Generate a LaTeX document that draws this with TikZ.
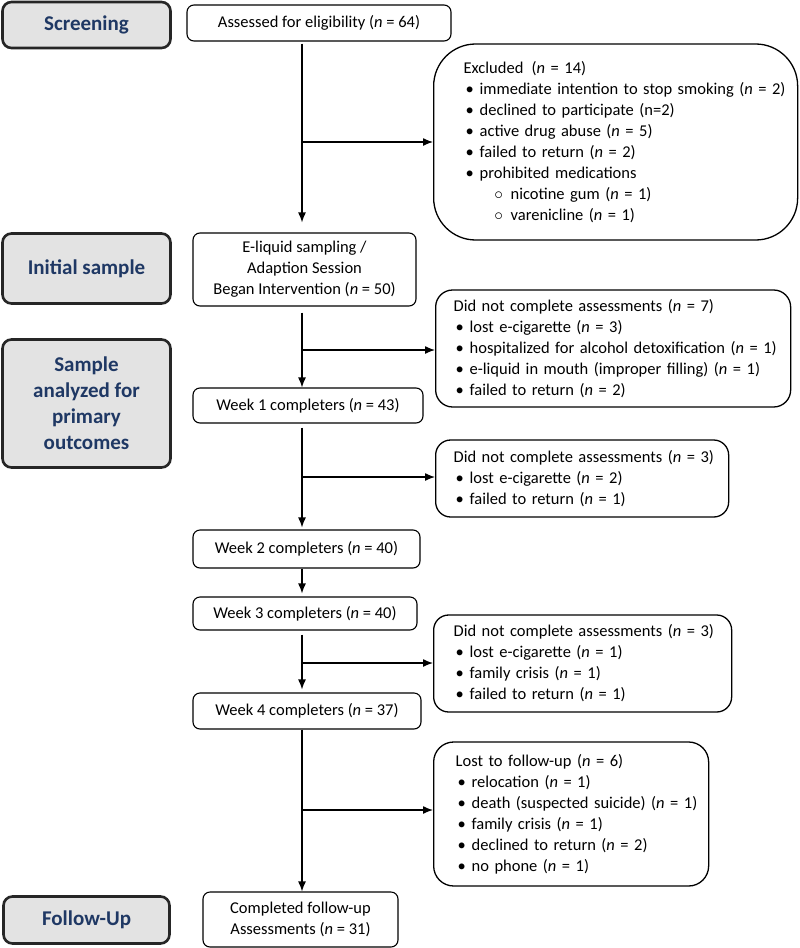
\documentclass[tikz,border=0pt]{standalone}
\usepackage{fontspec}
\setmainfont{Carlito}
\usepackage{tikz}
\usetikzlibrary{arrows.meta}

\definecolor{stagefill}{RGB}{227,227,227}
\definecolor{stagetext}{RGB}{31,56,100}

\newcommand{\hd}[1]{\mbox{#1}}
\newcommand{\itm}[1]{\mbox{\makebox[12pt][c]{\textbullet}\hspace{4pt}#1}}
\newcommand{\subitm}[1]{\mbox{\hspace*{29pt}\makebox[12pt][c]{$\circ$}\hspace{6pt}#1}}
\newcommand{\nn}{\textit{n}}

\begin{document}
\begin{tikzpicture}[x=1pt, y=-1pt,
    every node/.style={font=\fontsize{16.5}{21}\selectfont, inner sep=0pt},
    stage/.style={draw=black!85, line width=2.6pt, fill=stagefill, rounded corners=9pt,
        text=stagetext, font=\fontsize{21}{26}\selectfont\bfseries, align=center},
    mainbox/.style={draw, line width=1.1pt, rounded corners=7pt, align=center},
    sidebox/.style={draw, line width=1.3pt, align=left, anchor=west},
    arr/.style={line width=1.3pt, -{Latex[length=10pt, width=8pt]}}]

        \useasboundingbox (0,0) rectangle (800,948);

        % Stages on the left
        \node[stage, minimum width=168, minimum height=46] (scr) at (86.5,25) {Screening};
        \node[stage, minimum width=168, minimum height=70] (ini) at (86.5,268.5) {Initial sample};
        \node[stage, minimum width=168, minimum height=128] (ana) at (86.5,403.5) {Sample\\analyzed for\\primary\\outcomes};
        \node[stage, minimum width=166, minimum height=47] (fol) at (86.5,920) {Follow-Up};

        % Main column
        \node[mainbox, minimum width=264, minimum height=36] (assess) at (319,23) {Assessed for eligibility (\nn{} = 64)};
        \node[mainbox, minimum width=223, minimum height=73] (eliq) at (304.5,269.5) {E-liquid sampling /\\Adaption Session\\Began Intervention (\nn{} = 50)};
        \node[mainbox, minimum width=230, minimum height=35] (wk1) at (308,405.5) {Week 1 completers (\nn{} = 43)};
        \node[mainbox, minimum width=227, minimum height=38] (wk2) at (306.5,549) {Week 2 completers (\nn{} = 40)};
        \node[mainbox, minimum width=224, minimum height=33] (wk3) at (305,613.5) {Week 3 completers (\nn{} = 40)};
        \node[mainbox, minimum width=228, minimum height=36] (wk4) at (307,711) {Week 4 completers (\nn{} = 37)};
        \node[mainbox, minimum width=195, minimum height=55] (done) at (300.5,919.5) {Completed follow-up\\Assessments (\nn{} = 31)};

        % Side boxes
        \node[sidebox, rounded corners=42pt, inner xsep=30pt, text width=304pt, minimum height=196] (excl) at (433,142)
            {\hd{Excluded\enspace(\nn{} = 14)}\\
             \itm{immediate intention to stop smoking (\nn{} = 2)}\\
             \itm{declined to participate (n=2)}\\
             \itm{active drug abuse (\nn{} = 5)}\\
             \itm{failed to return (\nn{} = 2)}\\
             \itm{prohibited medications}\\
             \subitm{nicotine gum (\nn{} = 1)}\\
             \subitm{varenicline (\nn{} = 1)}};
        \node[sidebox, rounded corners=17pt, inner xsep=18pt, text width=319pt, minimum height=117] (dnc1) at (435,348.5)
            {\hd{Did not complete assessments (\nn{} = 7)}\\
             \itm{lost e-cigarette (\nn{} = 3)}\\
             \itm{hospitalized for alcohol detoxification (\nn{} = 1)}\\
             \itm{e-liquid in mouth (improper filling) (\nn{} = 1)}\\
             \itm{failed to return (\nn{} = 2)}};
        \node[sidebox, rounded corners=15pt, inner xsep=18pt, text width=257pt, minimum height=77] (dnc2) at (435,478.5)
            {\hd{Did not complete assessments (\nn{} = 3)}\\
             \itm{lost e-cigarette (\nn{} = 2)}\\
             \itm{failed to return (\nn{} = 1)}};
        \node[sidebox, rounded corners=15pt, inner xsep=20pt, text width=258pt, minimum height=97] (dnc3) at (433,663.5)
            {\hd{Did not complete assessments (\nn{} = 3)}\\
             \itm{lost e-cigarette (\nn{} = 1)}\\
             \itm{family crisis (\nn{} = 1)}\\
             \itm{failed to return (\nn{} = 1)}};
        \node[sidebox, rounded corners=20pt, inner xsep=22pt, text width=231pt, minimum height=144] (lost) at (433,814)
            {\hd{Lost to follow-up (\nn{} = 6)}\\
             \itm{relocation (\nn{} = 1)}\\
             \itm{death (suspected suicide) (\nn{} = 1)}\\
             \itm{family crisis (\nn{} = 1)}\\
             \itm{declined to return (\nn{} = 2)}\\
             \itm{no phone (\nn{} = 1)}};

        % Column lines
        \coordinate (col) at (302,0);
        \draw[arr, shorten <=2pt, shorten >=10pt] (assess.south -| col) -- (eliq.north -| col);
        \draw[arr, shorten <=6pt] (eliq.south -| col) -- (wk1.north -| col);
        \draw[arr, shorten <=4pt, shorten >=2pt] (wk1.south -| col) -- (wk2.north -| col);
        \draw[arr, shorten >=3pt] (wk2.south -| col) -- (wk3.north -| col);
        \draw[arr, shorten <=4pt, shorten >=3pt] (wk3.south -| col) -- (wk4.north -| col);
        \draw[arr] (wk4.south -| col) -- (done.north -| col);

        % Branches to the side boxes
        \coordinate (b1) at (302,142);
        \coordinate (b2) at (302,350);
        \coordinate (b3) at (302,477);
        \coordinate (b4) at (302,663);
        \coordinate (b5) at (302,810);
        \draw[arr] (b1) -- (b1 -| excl.west);
        \draw[arr] (b2) -- (b2 -| dnc1.west);
        \draw[arr] (b3) -- (b3 -| dnc2.west);
        \draw[arr] (b4) -- (b4 -| dnc3.west);
        \draw[arr] (b5) -- (b5 -| lost.west);

\end{tikzpicture}
\end{document}
